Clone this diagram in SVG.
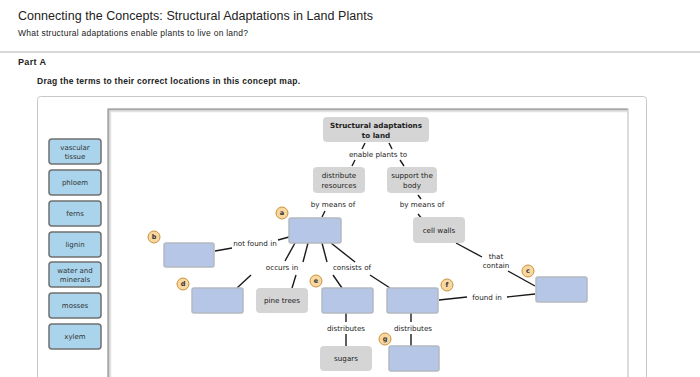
<svg xmlns="http://www.w3.org/2000/svg" width="700" height="377" viewBox="0 0 700 377">
<style>
.hdr{font-family:"Liberation Sans",Arial,sans-serif;fill:#222}
.term rect{fill:#a9d4ec;stroke:#707070;stroke-width:1.5}
.t{font-family:"DejaVu Sans",Verdana,sans-serif;font-size:7px;fill:#333;text-anchor:middle}
.lbl{font-family:"DejaVu Sans",Verdana,sans-serif;font-size:7.2px;fill:#222;text-anchor:middle}
.gray{fill:#d5d5d5}
.blank{fill:#b6c6e6;stroke:#b4b9c2;stroke-width:1.5}
.tag circle{fill:#f8d7a0;stroke:#c9923a;stroke-width:1}
.tag text{font-family:"DejaVu Sans",Verdana,sans-serif;font-size:6.5px;font-weight:bold;fill:#333;text-anchor:middle}
#connectors line{stroke:#1a1a1a;stroke-width:1.4}
</style>
<rect width="700" height="377" fill="#fff"/>
<text class="hdr" x="18" y="20" font-size="12.5" textLength="355">Connecting the Concepts: Structural Adaptations in Land Plants</text>
<text class="hdr" x="18" y="36" font-size="8.5" fill="#444" textLength="230">What structural adaptations enable plants to live on land?</text>
<rect x="0" y="51" width="700" height="2" fill="#d8d8d8"/>
<text class="hdr" x="18" y="65" font-size="9" font-weight="bold" textLength="28">Part A</text>
<text class="hdr" x="37" y="84" font-size="8.5" font-weight="bold" fill="#333" textLength="263">Drag the terms to their correct locations in this concept map.</text>
<rect x="37.5" y="96.5" width="609" height="300" rx="3" fill="#fff" stroke="#c8c8c8"/>
<rect x="108" y="109" width="520" height="290" fill="#fff" stroke="#b8b8b8"/>
<path d="M108.5,399 V109.5 H627.5" fill="none" stroke="#a6a6a6" stroke-width="2"/>
<path d="M110.5,399 V111.5 H627" fill="none" stroke="#e2e2e2" stroke-width="1.5"/>

<g id="term-vascular-tissue" class="term"><rect x="49" y="139" width="52" height="25" rx="3"/><text class="t" x="75" y="149.5">vascular</text><text class="t" x="75" y="158.5">tissue</text></g>
<g id="term-phloem" class="term"><rect x="49" y="170" width="52" height="25" rx="3"/><text class="t" x="75" y="185">phloem</text></g>
<g id="term-ferns" class="term"><rect x="49" y="201" width="52" height="25" rx="3"/><text class="t" x="75" y="216">ferns</text></g>
<g id="term-lignin" class="term"><rect x="49" y="232" width="52" height="25" rx="3"/><text class="t" x="75" y="247">lignin</text></g>
<g id="term-water-minerals" class="term"><rect x="49" y="262" width="52" height="25" rx="3"/><text class="t" x="75" y="272.5">water and</text><text class="t" x="75" y="281.5">minerals</text></g>
<g id="term-mosses" class="term"><rect x="49" y="293" width="52" height="25" rx="3"/><text class="t" x="75" y="308">mosses</text></g>
<g id="term-xylem" class="term"><rect x="49" y="324" width="52" height="25" rx="3"/><text class="t" x="75" y="339">xylem</text></g>

<g id="connectors">
<line x1="365" y1="143" x2="362" y2="149"/>
<line x1="389" y1="143" x2="392" y2="149"/>
<line x1="355" y1="160" x2="352" y2="166"/>
<line x1="400" y1="160" x2="404" y2="166"/>
<line x1="418" y1="195" x2="421" y2="199"/>
<line x1="325" y1="211" x2="322" y2="217"/>
<line x1="418" y1="214" x2="423" y2="220"/>
<line x1="456" y1="243" x2="482" y2="257"/>
<line x1="508" y1="271" x2="535" y2="286"/>
<line x1="439" y1="300" x2="467" y2="297"/>
<line x1="507" y1="297" x2="535" y2="294"/>
<line x1="215" y1="251" x2="232" y2="248"/>
<line x1="278" y1="240" x2="289" y2="237"/>
<line x1="295" y1="243" x2="285" y2="261"/>
<line x1="308" y1="243" x2="303" y2="262"/>
<line x1="322" y1="243" x2="327" y2="262"/>
<line x1="331" y1="243" x2="355" y2="262"/>
<line x1="251" y1="275" x2="237" y2="288"/>
<line x1="296" y1="275" x2="292" y2="288"/>
<line x1="333" y1="275" x2="342" y2="288"/>
<line x1="370" y1="275" x2="390" y2="288"/>
<line x1="346" y1="313" x2="346" y2="322"/>
<line x1="346" y1="334" x2="346" y2="346"/>
<line x1="411" y1="313" x2="411" y2="322"/>
<line x1="411" y1="334" x2="411" y2="346"/>
</g>

<g id="labels">
<text class="lbl" x="378" y="157">enable plants to</text>
<text class="lbl" x="333" y="207">by means of</text>
<text class="lbl" x="422" y="207">by means of</text>
<text class="lbl" x="255" y="246">not found in</text>
<text class="lbl" x="282" y="270">occurs in</text>
<text class="lbl" x="352" y="270">consists of</text>
<text class="lbl" x="496" y="259">that</text>
<text class="lbl" x="496" y="268">contain</text>
<text class="lbl" x="487" y="300">found in</text>
<text class="lbl" x="346" y="331">distributes</text>
<text class="lbl" x="413" y="331">distributes</text>
</g>

<g id="node-structural-adaptations"><rect class="gray" x="323" y="117" width="106" height="25" rx="4"/><text class="lbl" x="376" y="127.5" font-weight="bold" fill="#111">Structural adaptations</text><text class="lbl" x="376" y="137.5" font-weight="bold" fill="#111">to land</text></g>
<g id="node-distribute-resources"><rect class="gray" x="313" y="167" width="52" height="26" rx="4"/><text class="lbl" x="339" y="178">distribute</text><text class="lbl" x="339" y="187.5">resources</text></g>
<g id="node-support-body"><rect class="gray" x="387" y="167" width="50" height="26" rx="4"/><text class="lbl" x="412" y="178">support the</text><text class="lbl" x="412" y="187.5">body</text></g>
<g id="node-cell-walls"><rect class="gray" x="413" y="217" width="52" height="26" rx="4"/><text class="lbl" x="439" y="232.5">cell walls</text></g>
<g id="node-pine-trees"><rect class="gray" x="256" y="288" width="52" height="25" rx="4"/><text class="lbl" x="282" y="303">pine trees</text></g>
<g id="node-sugars"><rect class="gray" x="320" y="346" width="52" height="25" rx="4"/><text class="lbl" x="346" y="361">sugars</text></g>

<g id="blank-a"><rect class="blank" x="289" y="218" width="52" height="25" rx="2"/><g class="tag"><circle cx="282" cy="213" r="6"/><text x="282" y="215.3">a</text></g></g>
<g id="blank-b"><rect class="blank" x="164" y="243" width="50" height="24" rx="2"/><g class="tag"><circle cx="154" cy="237" r="6"/><text x="154" y="239.3">b</text></g></g>
<g id="blank-c"><rect class="blank" x="536" y="277" width="51" height="25" rx="2"/><g class="tag"><circle cx="528" cy="271" r="6"/><text x="528" y="273.3">c</text></g></g>
<g id="blank-d"><rect class="blank" x="192" y="288" width="51" height="25" rx="2"/><g class="tag"><circle cx="183" cy="284" r="6"/><text x="183" y="286.3">d</text></g></g>
<g id="blank-e"><rect class="blank" x="322" y="288" width="51" height="25" rx="2"/><g class="tag"><circle cx="316" cy="281" r="6"/><text x="316" y="283.3">e</text></g></g>
<g id="blank-f"><rect class="blank" x="387" y="288" width="51" height="25" rx="2"/><g class="tag"><circle cx="447" cy="285" r="6"/><text x="447" y="287.3">f</text></g></g>
<g id="blank-g"><rect class="blank" x="389" y="346" width="50" height="25" rx="2"/><g class="tag"><circle cx="385" cy="339" r="6"/><text x="385" y="341.3">g</text></g></g>
</svg>
